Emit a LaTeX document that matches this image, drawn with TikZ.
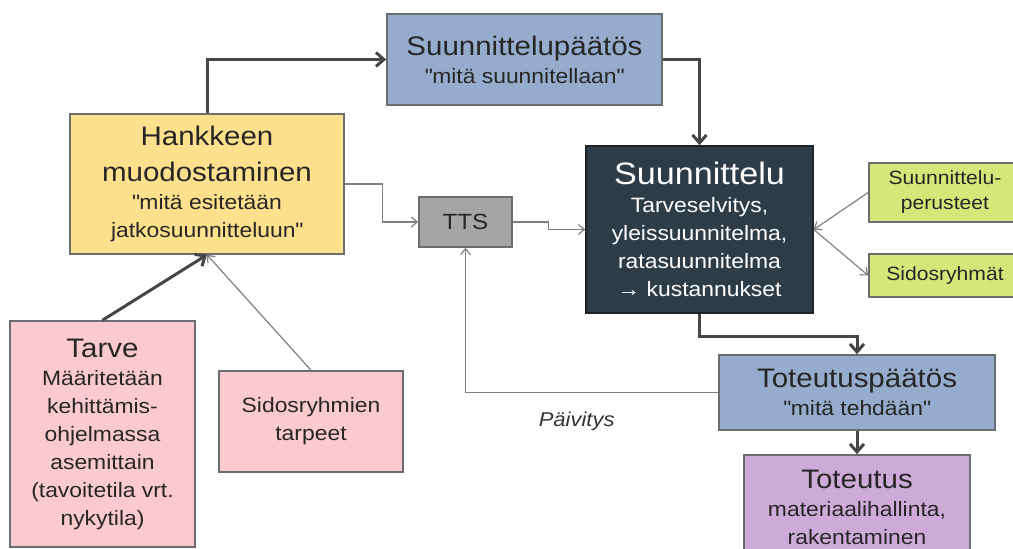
\documentclass[tikz,border=0pt]{standalone}
\usepackage{fontspec}
\setmainfont{Liberation Sans}[FakeStretch=1.1]
\usetikzlibrary{arrows.meta, positioning, calc}
\definecolor{decblue}{RGB}{150,172,204}
\definecolor{projyellow}{RGB}{255,224,140}
\definecolor{ttsgray}{RGB}{165,165,165}
\definecolor{plandark}{RGB}{46,60,72}
\definecolor{basegreen}{RGB}{214,230,120}
\definecolor{needpink}{RGB}{250,202,206}
\definecolor{buildpurple}{RGB}{206,170,216}
\definecolor{edgegray}{RGB}{105,110,115}
\definecolor{arrowgray}{RGB}{70,70,70}
\newcommand{\ttlfs}{\fontsize{13.4}{18}\selectfont}
\newcommand{\planfs}{\fontsize{15.5}{18}\selectfont}
\newcommand{\bodyfs}{\fontsize{10.4}{14}\selectfont}
\newcommand{\smallfs}{\fontsize{9.6}{12.5}\selectfont}
\newcommand{\labelfs}{\fontsize{10}{12}\selectfont\itshape}
\newcommand{\qq}{\textquotedbl}

\begin{document}
\begin{tikzpicture}[
        x=0.5pt, y=-0.5pt,
        box/.style={rectangle, draw=edgegray, line width=0.8pt, align=center, inner sep=2pt, text=black!85, font=\bodyfs},
        thickarrow/.style={-{Straight Barb[length=4pt,width=7pt]}, line width=1.5pt, arrowgray},
        thinarrow/.style={-{Straight Barb[length=3pt,width=5pt]}, line width=0.6pt, gray}
    ]
        \useasboundingbox (0,0) rectangle (1013,549);

        \node[box, fill=decblue, minimum width=137.5pt, minimum height=45.5pt] (plandec) at (524.5,59.5) {{\ttlfs Suunnittelupäätös}\\\qq mitä suunnitellaan\qq};
        \node[box, fill=projyellow, minimum width=137pt, minimum height=70pt] (project) at (207,184) {{\ttlfs Hankkeen}\\[4pt]{\ttlfs muodostaminen}\\\qq mitä esitetään\\jatkosuunnitteluun\qq};
        \node[box, fill=ttsgray, minimum width=46.5pt, minimum height=25pt, font=\fontsize{11}{13}\selectfont] (tts) at (465.5,222) {TTS};
        \node[box, fill=plandark, draw=plandark!60!black, text=white, minimum width=113.5pt, minimum height=83.5pt] (plan) at (699.5,229.5) {{\planfs Suunnittelu}\\Tarveselvitys,\\yleissuunnitelma,\\ratasuunnitelma\\{\bfseries →} kustannukset};
        \node[box, fill=basegreen, minimum width=76pt, minimum height=29.5pt, font=\smallfs] (basis) at (945,192.5) {Suunnittelu-\\perusteet};
        \node[box, fill=basegreen, minimum width=76pt, minimum height=21.5pt, font=\smallfs] (groups) at (945,275.5) {Sidosryhmät};
        \node[box, fill=decblue, minimum width=138pt, minimum height=37.5pt] (impdec) at (857,392.5) {{\ttlfs Toteutuspäätös}\\\qq mitä tehdään\qq};
        \node[box, fill=buildpurple, minimum width=113pt, minimum height=52.5pt] (impl) at (857,507.5) {{\ttlfs Toteutus}\\materiaalihallinta,\\rakentaminen};
        \node[box, fill=needpink, minimum width=92.5pt, minimum height=113pt] (need) at (102.5,434) {{\ttlfs Tarve}\\Määritetään\\kehittämis-\\ohjelmassa\\asemittain\\(tavoitetila vrt.\\nykytila)};
        \node[box, fill=needpink, minimum width=92pt, minimum height=50.5pt] (stakeneeds) at (311,421.5) {Sidosryhmien\\tarpeet};

        \draw[thickarrow] (project.north) |- (plandec.west);
        \draw[thickarrow] (plandec.east) -| (plan.north);
        \draw[thinarrow] (project.east) -- ++(38,0) |- (tts.west);
        \draw[thinarrow] (tts.east) -- ++(36,0) |- (plan.west);
        \draw[thinarrow] (basis.west) -- (plan.east);
        \draw[thinarrow] (plan.east) -- (groups.west);
        \draw[thickarrow] (plan.south) -- ++(0,23) -| (impdec.north);
        \draw[thinarrow] (impdec.west) -| node[pos=0.28, below=6pt, font=\labelfs, text=black!80] {Päivitys} (tts.south);
        \draw[thickarrow] (impdec.south) -- (impl.north);
        \draw[thickarrow] (need.north) -- (project.south);
        \draw[thinarrow] (stakeneeds.north) -- (project.south);
    \end{tikzpicture}
\end{document}
